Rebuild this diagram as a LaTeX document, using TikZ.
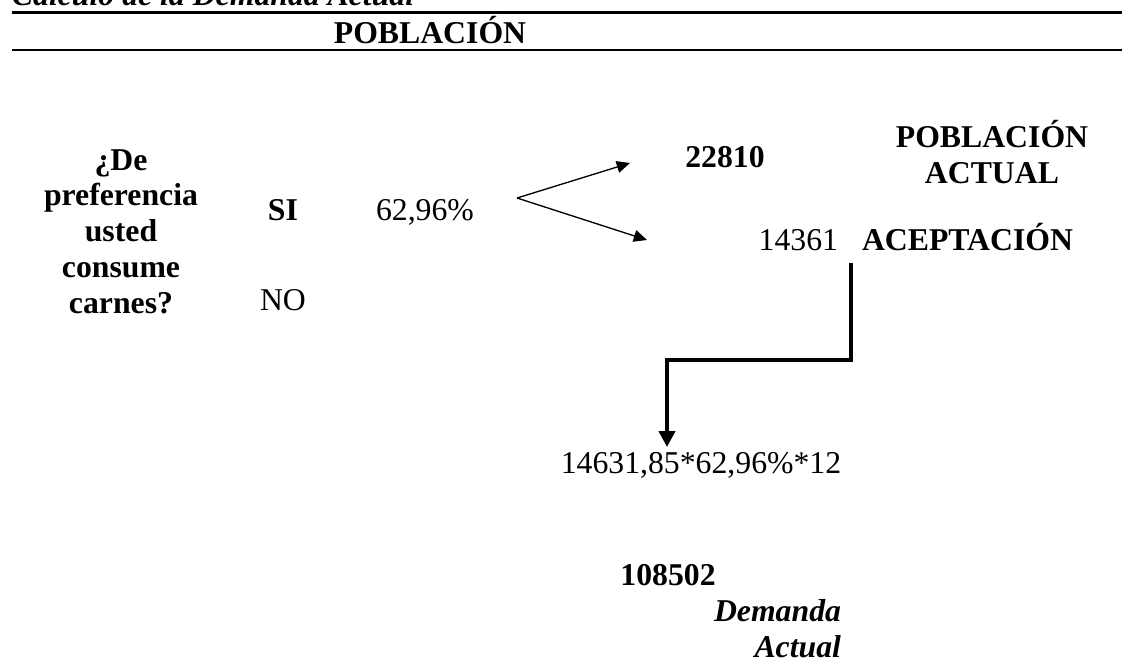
\documentclass[tikz,border=0pt]{standalone}
\usepackage{fontspec}
\setmainfont{Liberation Serif}
\usetikzlibrary{arrows.meta,positioning}

\begin{document}
\begin{tikzpicture}[x=0.378pt, y=-0.378pt, inner sep=0pt, outer sep=0pt,
  font=\fontsize{12}{13.5}\selectfont,
  lbl/.style={anchor=base},
  bold/.style={font=\fontsize{12}{13.5}\selectfont\bfseries},
  thin arrow/.style={line width=0.5pt, -{Triangle[length=5pt,width=4.5pt]}},
  thick arrow/.style={line width=1.5pt, -{Triangle[length=6pt,width=6pt]}}]
\useasboundingbox (0,0) rectangle (1122,662);

% caption and header rules
\node (cap) [anchor=base west, font=\fontsize{12}{13.5}\selectfont\bfseries\itshape] at (12,5) {Cálculo de la Demanda Actual};
\draw[line width=0.8pt] (12,12.5) -- (1122,12.5);
\node (pob) [lbl, bold] at (430,43) {POBLACIÓN};
\draw[line width=0.8pt] (12,50) -- (1122,50);

% question and answers (base = last line)
\node (preg) [lbl, bold, align=center] at (121,313) {¿De\\preferencia\\usted\\consume\\carnes?};
\node (si) [lbl, bold] at (283,220) {SI};
\node (no) [lbl] at (283,310) {NO};
\node (pct) [lbl] at (425,220) {62,96\%};

% population and acceptance
\node (total) [lbl, bold] at (725,167) {22810};
\node (pobact) [lbl, bold, align=center] at (992,183) {POBLACIÓN\\ACTUAL};
\node (acep) [anchor=base west, bold] at (862,250) {ACEPTACIÓN};
\node (acepnum) [left=24 of acep.base west, anchor=base east] {14361};

% calculation and result
\node (calc) [lbl] at (701,473) {14631,85*62,96\%*12};
\node (res) [lbl, bold] at (668,585) {108502};
\node (dem) [anchor=base east, font=\fontsize{12}{13.5}\selectfont\bfseries\itshape, align=right] at (841,657) {Demanda\\Actual};

% connectors
\coordinate (fork) at (517,198);
\coordinate (up) at (630,163);
\coordinate (down) at (647,240);
\coordinate (bend) at (851,263);
\coordinate (drop) at (667,447);
\draw[thin arrow] (fork) -- (up);
\draw[thin arrow] (fork) -- (down);
\draw[thick arrow] (bend) |- (667,360) -- (drop);
\end{tikzpicture}
\end{document}
